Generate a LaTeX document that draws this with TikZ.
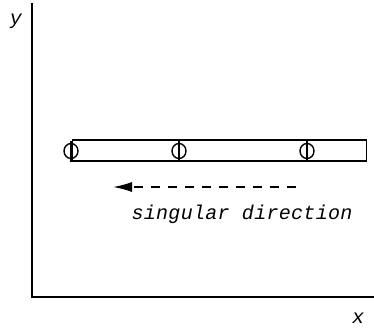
\documentclass[tikz,border=0pt]{standalone}
\usepackage{fontspec}
\newfontfamily\courfont[LetterSpace=1.5]{Liberation Mono}
\usetikzlibrary{arrows.meta}
\begin{document}
\begin{tikzpicture}[x=1pt,y=-1pt,
  axis/.style={line width=2.2pt},
  bar/.style={line width=1.4pt},
  lbl/.style={font=\courfont\itshape\fontsize{20}{22}\selectfont,inner sep=0pt}]
\useasboundingbox (0,0) rectangle (374,329);
\coordinate (top) at (32,3);
\coordinate (origin) at (32,297);
\coordinate (right) at (374,297);
\draw[axis] (top) -- (origin) -- (right);
\node[lbl] (ylab) at (16,21) {y};
\node[lbl] (xlab) at (358,318) {x};
\node[draw,bar,minimum width=294pt,minimum height=21pt,inner sep=0pt,anchor=west] (rod) at (72,150.5) {};
\foreach \n/\x in {p1/71,p2/179,p3/307}{
  \coordinate (\n) at (\x,151);
  \draw[bar] (\n) ellipse [x radius=7pt, y radius=7.5pt];
  \draw[bar] ([yshift=-10.5pt]\n) -- ([yshift=10.5pt]\n);
}
\coordinate (as) at (296,187);
\coordinate (ae) at (113,187);
\draw[line width=1.5pt,dash pattern=on 9pt off 8pt,-{Latex[length=19pt,width=10pt]}] (as) -- (ae);
\node[lbl] (dir) at (242,214) {singular direction};
\end{tikzpicture}
\end{document}
